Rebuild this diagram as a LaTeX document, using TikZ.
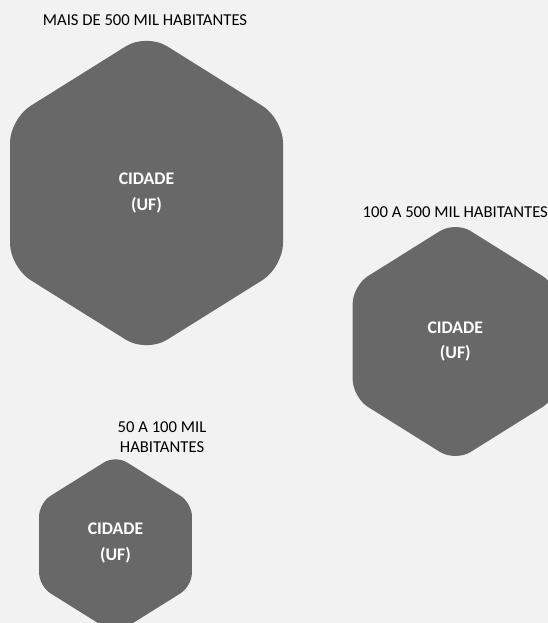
\documentclass[tikz,border=0pt]{standalone}
\usepackage{fontspec}
\setmainfont{Carlito}
\usepackage{xcolor}
\usetikzlibrary{positioning}
\definecolor{pagebg}{HTML}{F2F2F2}
\definecolor{hexgrey}{HTML}{686868}
\newcommand{\lf}{\fontsize{12.5}{15.4}\selectfont}
\newcommand{\cf}{\fontsize{13.3}{18.8}\selectfont\bfseries}

\begin{document}
\begin{tikzpicture}[x=0.75pt, y=-0.75pt,
  every node/.style={inner sep=0pt, outer sep=0pt},
  citytext/.style={font=\cf, text=white, align=center},
  sizelabel/.style={font=\lf, text=black, align=center}]
% ---- page and clipping
\fill[pagebg] (0,0) rectangle (548,623);
\useasboundingbox (0,0) rectangle (548,623);
\clip (0,0) rectangle (548,623);
% ---- one hexagon: #1 = centre x, #2 = centre y, #3 = scale, #4 = corner
\newcommand{\hexa}[4]{%
  \fill[hexgrey, rounded corners=#4, shift={(#1,#2)}, scale=#3]
    (0,-159.6) -- (136.5,-74.25) -- (136.5,74.25) -- (0,159.6)
    -- (-136.5,74.25) -- (-136.5,-74.25) -- cycle;
}
% ================= largest: more than 500 thousand
\hexa{146.5}{193}{1}{18pt}
\node[citytext] (big) at (146.5,193) {CIDADE\\(UF)};
\node[sizelabel] (biglabel) at (145,20.5) {MAIS DE 500 MIL HABITANTES};
% ================= middle: 100 to 500 thousand
\hexa{455.3}{341.5}{0.752}{13.5pt}
\node[citytext] (mid) at (455.3,341.5) {CIDADE\\(UF)};
\node[sizelabel] (midlabel) at (455.3,212) {100 A 500 MIL HABITANTES};
% ================= smallest: 50 to 100 thousand
\hexa{115.5}{544.6}{0.56}{10pt}
\node[citytext] (small) at (115.5,543) {CIDADE\\(UF)};
\node[sizelabel] (smalllabel) at (162,437) {50 A 100 MIL\\HABITANTES};
\end{tikzpicture}
\end{document}
